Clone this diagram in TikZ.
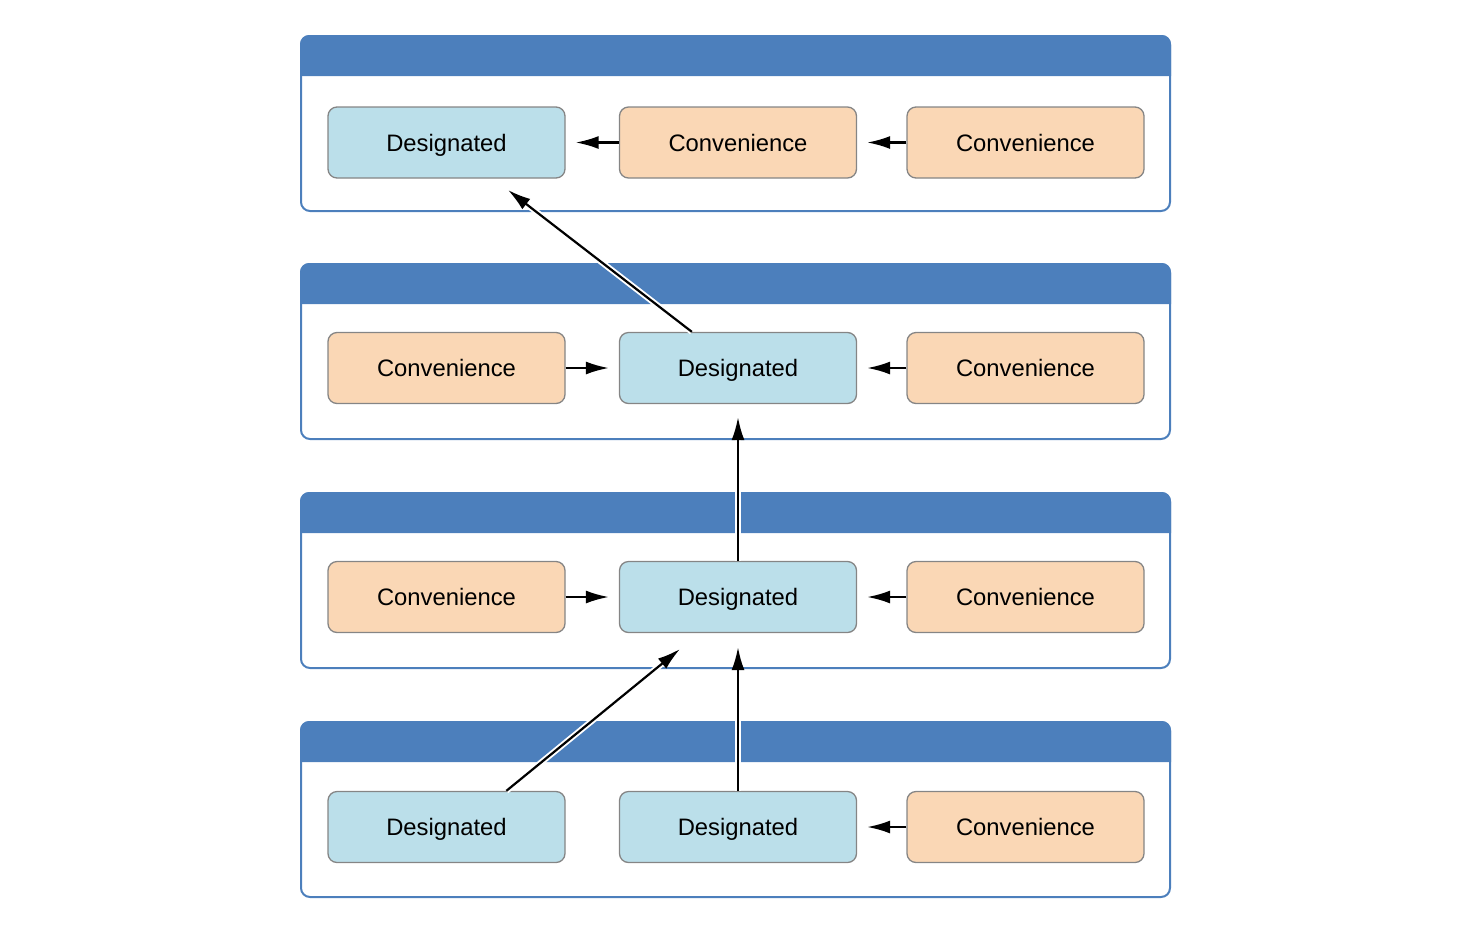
\documentclass[tikz,border=0pt]{standalone}
\usepackage{fontspec}
\setmainfont{Liberation Sans}
\usetikzlibrary{arrows.meta,calc}
\definecolor{hdr}{HTML}{4C7FBC}
\definecolor{desfill}{HTML}{BBDFEA}
\definecolor{convfill}{HTML}{FAD7B5}
\definecolor{nborder}{HTML}{858585}
\tikzset{
  classbox/.style={draw=hdr, line width=2pt, rounded corners=9pt, minimum width=869pt, minimum height=175pt, inner sep=0pt},
  inner/.style={draw=nborder, line width=1.3pt, rounded corners=9pt, minimum width=237pt, minimum height=71pt, inner sep=0pt, text height=17pt, text depth=0pt, font=\fontsize{23.8}{28}\selectfont},
  des/.style={inner, fill=desfill},
  conv/.style={inner, fill=convfill},
  arr/.style={line width=2.2pt, -{Latex[length=23pt,width=13pt]}, preaction={draw=white, line width=6pt, -}},
}
\begin{document}
\begin{tikzpicture}[x=1pt,y=-1pt]
\useasboundingbox (0,0) rectangle (1472,930);
% class boxes
\foreach \i/\t in {1/36,2/264,3/493,4/722}{
  \node[classbox] (c\i) at (735.5,\t+87.5) {};
  \fill[hdr] (c\i.north west) ++(0,41) {[rounded corners=9pt] -- (c\i.north west) -- (c\i.north east)} -- ++(0,41) -- cycle;
}
% row 1
\node[des]  (n11) at (446.5,142.5) {Designated};
\node[conv] (n12) at (738,142.5) {Convenience};
\node[conv] (n13) at (1025.5,142.5) {Convenience};
% row 2
\node[conv] (n21) at (446.5,368) {Convenience};
\node[des]  (n22) at (738,368) {Designated};
\node[conv] (n23) at (1025.5,368) {Convenience};
% row 3
\node[conv] (n31) at (446.5,597) {Convenience};
\node[des]  (n32) at (738,597) {Designated};
\node[conv] (n33) at (1025.5,597) {Convenience};
% row 4
\node[des]  (n41) at (446.5,827) {Designated};
\node[des]  (n42) at (738,827) {Designated};
\node[conv] (n43) at (1025.5,827) {Convenience};
% horizontal arrows
\draw[arr, shorten >=10pt] (n12.west) -- (n11.east);
\draw[arr, shorten >=10pt] (n13.west) -- (n12.east);
\draw[arr, shorten >=10pt] (n21.east) -- (n22.west);
\draw[arr, shorten >=10pt] (n23.west) -- (n22.east);
\draw[arr, shorten >=10pt] (n31.east) -- (n32.west);
\draw[arr, shorten >=10pt] (n33.west) -- (n32.east);
\draw[arr, shorten >=10pt] (n43.west) -- (n42.east);
% inter-class arrows
\coordinate (s1) at ($(n22.north west)+(73,0)$);
\coordinate (t1) at (508,190);
\draw[arr] (s1) -- (t1);
\draw[arr, shorten >=13pt] (n32.north) -- (n22.south);
\coordinate (s2) at ($(n41.north west)+(179,0)$);
\coordinate (t2) at (680,649);
\draw[arr] (s2) -- (t2);
\draw[arr, shorten >=14pt] (n42.north) -- (n32.south);
\end{tikzpicture}
\end{document}
